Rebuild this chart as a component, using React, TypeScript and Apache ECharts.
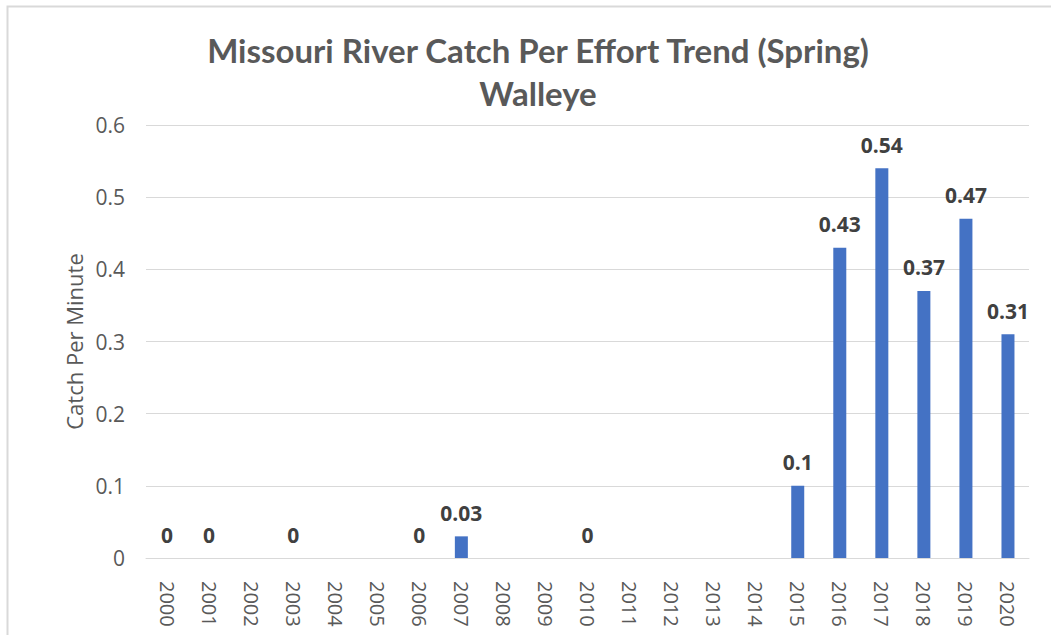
import React, { useEffect, useRef } from "react";
import * as echarts from "echarts";

const years = ["2000","2001","2002","2003","2004","2005","2006","2007","2008","2009","2010","2011","2012","2013","2014","2015","2016","2017","2018","2019","2020"];
const catchPerMinute: (number | null)[] = [0, 0, null, 0, null, null, 0, 0.03, null, null, 0, null, null, null, null, 0.1, 0.43, 0.54, 0.37, 0.47, 0.31];
const yTicks = [0, 0.1, 0.2, 0.3, 0.4, 0.5, 0.6];
const titleLines = ["Missouri River Catch Per Effort Trend (Spring)", "Walleye"];
const yAxisName = "Catch Per Minute";

export default function App() {
  const ref = useRef<HTMLDivElement>(null);
  useEffect(() => {
    document.body.style.margin = "0";
    const chart = echarts.init(ref.current!, null, { renderer: "svg" });
    chart.setOption({
      animation: false,
      backgroundColor: "#ffffff",
      title: {
        text: titleLines.join("\n"),
        left: 533,
        textAlign: "center",
        top: 23,
        textStyle: {
          fontFamily: "Lato, sans-serif",
          fontWeight: "bold",
          fontSize: 33,
          color: "#595959",
          lineHeight: 43,
        },
      },
      graphic: [
        {
          type: "rect",
          shape: { x: 7.5, y: 6.5, width: 1200, height: 700 },
          style: { fill: "none", stroke: "#d9d9d9", lineWidth: 2 },
          silent: true,
        },
      ],
      grid: { left: 146, right: 22, top: 125, bottom: 77, containLabel: false },
      xAxis: {
        type: "category",
        data: years,
        axisLine: { show: true, lineStyle: { color: "#d9d9d9", width: 1 } },
        axisTick: { show: false },
        axisLabel: {
          rotate: -90,
          color: "#595959",
          fontSize: 20,
          fontFamily: "Open Sans, sans-serif",
          margin: 23,
          interval: 0,
        },
      },
      yAxis: {
        type: "value",
        min: yTicks[0],
        max: yTicks[yTicks.length - 1],
        interval: 0.1,
        name: yAxisName,
        nameLocation: "middle",
        nameGap: 60,
        nameTextStyle: { color: "#595959", fontSize: 22, fontFamily: "Open Sans, sans-serif" },
        axisLine: { show: false },
        axisTick: { show: false },
        splitLine: { lineStyle: { color: "#d9d9d9", width: 1 } },
        axisLabel: {
          color: "#595959",
          fontSize: 21,
          fontFamily: "Open Sans, sans-serif",
          margin: 21,
          formatter: (v: number) => String(Math.round(v * 10) / 10),
        },
      },
      series: [
        {
          type: "bar",
          data: catchPerMinute,
          barWidth: 13,
          itemStyle: { color: "#4472c4" },
          label: {
            show: true,
            position: "top",
            distance: 13,
            color: "#404040",
            fontWeight: "bold",
            fontSize: 21,
            fontFamily: "Open Sans, sans-serif",
          },
        },
      ],
    });
    return () => chart.dispose();
  }, []);
  return <div ref={ref} style={{ width: 1051, height: 635 }} />;
}
